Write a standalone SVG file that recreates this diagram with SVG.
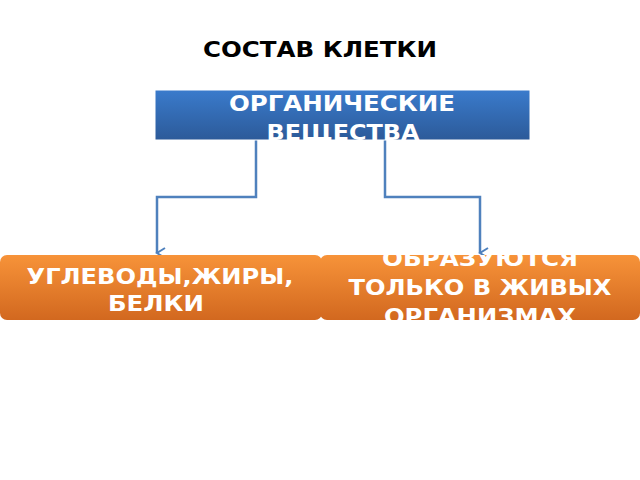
<svg xmlns="http://www.w3.org/2000/svg" width="640" height="480" viewBox="0 0 640 480">
<style>
.t{font-family:"DejaVu Sans",sans-serif;font-weight:bold;fill:#fff;text-anchor:middle;font-size:21px}
.c{fill:none;stroke:#4f81bd;stroke-width:2.5}
</style>
<defs>
<linearGradient id="gb" x1="0" y1="0" x2="0" y2="1"><stop offset="0" stop-color="#3a7bcc"/><stop offset="1" stop-color="#2c5a99"/></linearGradient>
<linearGradient id="go" x1="0" y1="0" x2="0" y2="1"><stop offset="0" stop-color="#f79339"/><stop offset="1" stop-color="#d2681f"/></linearGradient>
<marker id="a" markerWidth="12" markerHeight="12" refX="6" refY="10" orient="auto" markerUnits="userSpaceOnUse" viewBox="0 0 12 12"><path d="M1,2 L6,10 L11,2" fill="none" stroke="#4f81bd" stroke-width="2"/></marker>
<clipPath id="c1"><rect x="155" y="90" width="375" height="50"/></clipPath>
<clipPath id="c2"><rect x="0" y="255" width="322" height="65" rx="7"/></clipPath>
<clipPath id="c3"><rect x="320" y="255" width="320" height="65" rx="7"/></clipPath>
</defs>
<rect width="640" height="480" fill="#fff"/>
<text x="320" y="57" textLength="234" lengthAdjust="spacingAndGlyphs" style="font-family:'DejaVu Sans',sans-serif;font-weight:bold;font-size:21px;text-anchor:middle">СОСТАВ КЛЕТКИ</text>
<g id="connectors">
<path class="c" d="M256,140 V197 H157 V253" marker-end="url(#a)"/>
<path class="c" d="M385,140 V197 H480 V253" marker-end="url(#a)"/>
</g>
<g id="top">
<rect x="155" y="90" width="375" height="50" fill="url(#gb)" stroke="#fff" stroke-width="1"/>
<g clip-path="url(#c1)"><text class="t" x="342" y="111" textLength="226" lengthAdjust="spacingAndGlyphs">ОРГАНИЧЕСКИЕ</text><text class="t" x="343" y="140" textLength="153" lengthAdjust="spacingAndGlyphs">ВЕЩЕСТВА</text></g>
</g>
<g id="left">
<rect x="0" y="255" width="322" height="65" rx="7" fill="url(#go)"/>
<g clip-path="url(#c2)"><text class="t" x="160" y="284" textLength="267" lengthAdjust="spacingAndGlyphs">УГЛЕВОДЫ,ЖИРЫ,</text><text class="t" x="156" y="311" textLength="96" lengthAdjust="spacingAndGlyphs">БЕЛКИ</text></g>
</g>
<g id="right">
<rect x="320" y="255" width="320" height="65" rx="7" fill="url(#go)"/>
<g clip-path="url(#c3)"><text class="t" x="480" y="266" textLength="196" lengthAdjust="spacingAndGlyphs">ОБРАЗУЮТСЯ</text><text class="t" x="480" y="295" textLength="263" lengthAdjust="spacingAndGlyphs">ТОЛЬКО В ЖИВЫХ</text><text class="t" x="480" y="324" textLength="192" lengthAdjust="spacingAndGlyphs">ОРГАНИЗМАХ</text></g>
</g>
</svg>
